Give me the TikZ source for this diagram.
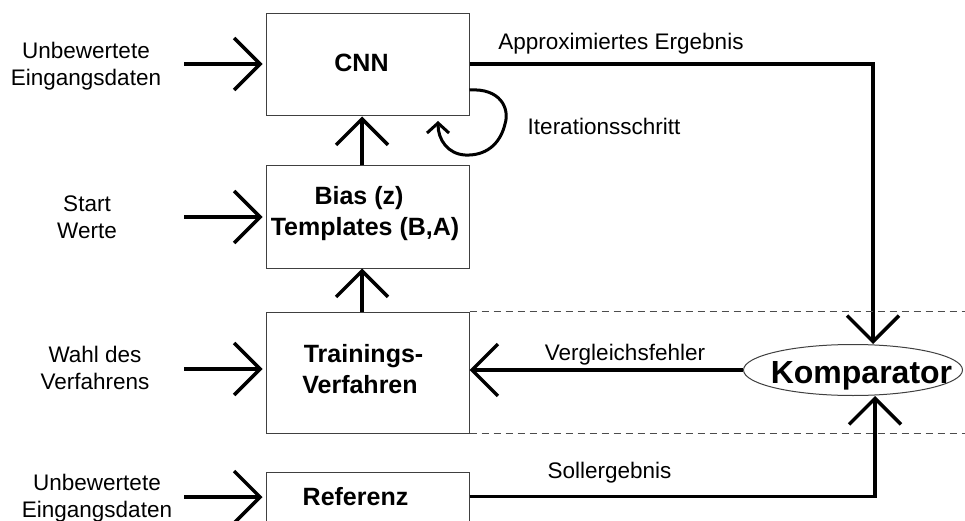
\documentclass[tikz,border=0pt]{standalone}
\usepackage{fontspec}
\setmainfont{Liberation Sans}
\usetikzlibrary{arrows.meta,shapes.geometric}
\begin{document}
\begin{tikzpicture}[x=1pt,y=-1pt,
  box/.style={draw=black!75, line width=1pt, rectangle, inner sep=0pt, minimum width=203pt},
  lbl/.style={font=\fontsize{22.5}{27}\selectfont, align=center, inner sep=0pt},
  elbl/.style={font=\fontsize{22.5}{27}\selectfont, anchor=base, inner sep=0pt},
  btxt/.style={font=\bfseries\fontsize{25}{30}\selectfont, anchor=base, inner sep=0pt},
  arr/.style={line width=3.5pt, -{Straight Barb[length=26pt,width=52pt]}},
  smallarr/.style={line width=3pt, -{Straight Barb[length=10pt,width=22pt]}},
  dashline/.style={draw=black!70, line width=1pt, dash pattern=on 7pt off 5pt},
]
\clip (0,0) rectangle (965,521);
\fill[white] (0,0) rectangle (965,521);

% boxes
\node[box, minimum height=102pt] (cnn) at (367.5,65) {};
\node[box, minimum height=102pt] (bias) at (367.5,217) {};
\node[box, minimum height=121pt] (train) at (367.5,372.5) {};
\node[box, minimum height=104pt] (ref) at (367.5,524) {};
\node[draw=black!75, line width=1pt, ellipse, minimum width=219pt, minimum height=51pt, inner sep=0pt] (komp) at (853,370) {};

% box texts
\node[btxt] (cnnT) at (361.5,72) {CNN};
\node[btxt] (biasT) at (359,205) {Bias (z)};
\node[btxt] (tmplT) at (365,235) {Templates (B,A)};
\node[btxt] (trT) at (363.5,362) {Trainings-};
\node[btxt] (vfT) at (360,393) {Verfahren};
\node[btxt] (refT) at (355.5,505) {Referenz};
\node[btxt, font=\bfseries\fontsize{32}{36}\selectfont] (kompT) at (861.5,383) {Komparator};

% input labels
\node[lbl] (in1L) at (86,66) {Unbewertete\\Eingangsdaten};
\node[lbl] (in2L) at (87,217) {Start\\Werte};
\node[lbl] (in3L) at (95,368) {Wahl des\\Verfahrens};
\node[lbl] (in4L) at (97,498) {Unbewertete\\Eingangsdaten};

% input coordinates
\coordinate (in1) at (184,64);
\coordinate (in2) at (184,217);
\coordinate (in3) at (184,369);
\coordinate (in4) at (184,497);
\draw[arr, shorten >=3pt] (in1) -- (cnn.west |- in1);
\draw[arr, shorten >=3pt] (in2) -- (bias.west |- in2);
\draw[arr, shorten >=3pt] (in3) -- (train.west |- in3);
\draw[arr, shorten >=3pt] (in4) -- (ref.west |- in4);

% vertical arrows
\draw[arr] ([xshift=-5.5pt]bias.north) -- ([xshift=-5.5pt]cnn.south);
\draw[arr] ([xshift=-5.5pt]train.north) -- ([xshift=-5.5pt]bias.south);

% output to comparator
\draw[arr] ([yshift=1pt]cnn.east) -| ([xshift=20pt]komp.north);
\node[elbl] (apL) at (621,50) {Approximiertes Ergebnis};

% self loop
\draw[smallarr] ([yshift=-25pt]cnn.east) .. controls (500,88) and (510,108) .. (505,124)
  .. controls (500,145) and (485,156) .. (465,155)
  .. controls (448,154) and (438,140) .. (438,121);
\node[elbl] (itL) at (604,135) {Iterationsschritt};

% comparison error
\draw[arr] (komp.west) -- (train.east |- komp.west);
\node[elbl] (vgL) at (625,360) {Vergleichsfehler};

% reference result
\draw[arr] ([yshift=-25pt]ref.north east) -| ([xshift=22pt]komp.south);
\node[elbl] (soL) at (609.5,478) {Sollergebnis};

% dashed lines
\coordinate (rightedge) at (965,0);
\draw[dashline] (train.north east) -- (train.north east -| rightedge);
\draw[dashline] (train.south east) -- (train.south east -| rightedge);
\end{tikzpicture}
\end{document}
